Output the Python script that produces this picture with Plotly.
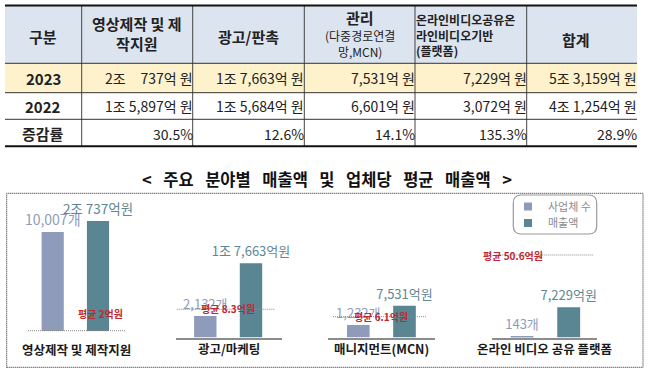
import plotly.graph_objects as go

# ---------------- data ----------------
table_header = ["구분", "영상제작 및 제<br>작지원", "광고/판촉", "관리",
                "온라인비디오공유온<br>라인비디오기반<br>(플랫폼)", "합계"]
table_header_sub = ["", "", "", "(다중경로연결<br>망,MCN)", "", ""]
row_labels = ["2023", "2022", "증감률"]
sales_2023 = [20737, 17663, 7531, 7229, 53159]      # 억 원
sales_2022 = [15897, 15684, 6601, 3072, 41254]      # 억 원
growth_rate = [30.5, 12.6, 14.1, 135.3, 28.9]       # %

chart_title = "< 주요 분야별 매출액 및 업체당 평균 매출액 >"
categories = ["영상제작 및 제작지원", "광고/마케팅", "매니지먼트(MCN)", "온라인 비디오 공유 플랫폼"]
series_names = ["사업체 수", "매출액"]
companies = [10007, 2132, 1232, 143]                # 개
revenue = [20737, 17663, 7531, 7229]                # 억원
avg_revenue = [2, 8.3, 6.1, 50.6]                   # 억원

# ---------------- helpers ----------------
W, H = 648, 379
FONT = "Noto Sans CJK KR"


def fx(px):
    return px / W


def fy(py):
    return 1 - py / H


def won_table(v):
    jo, rest = divmod(v, 10000)
    if jo:
        r = f"{rest:,}"
        nd = sum(c.isdigit() for c in r)
        pad = "\u2007" * max(0, 4 - nd) + ("\u2008" if "," not in r else "")
        return f"{jo}조 {pad}{r}억 원"
    return f"{rest:,}억 원"


def won_label(v):
    jo, rest = divmod(v, 10000)
    if jo:
        return f"{jo}조 {rest:,}억원"
    return f"{rest:,}억원"


shapes, annotations = [], []

# ---------------- table (cells drawn from the arrays) ----------------
col_w = [76.7, 111, 111.6, 110.7, 111.7, 110.3]
row_h = [58.3, 29.4, 26.6, 27.4]
x_edges = [5.0]
for w in col_w:
    x_edges.append(x_edges[-1] + w)
y_edges = [5.0]
for h in row_h:
    y_edges.append(y_edges[-1] + h)
TL, TR = x_edges[0], x_edges[-1]
blue, yellow = "#dce4f0", "#fdf2cc"


def rect(x0, x1, y0, y1, fill):
    return dict(type="rect", xref="paper", yref="paper", x0=fx(x0), x1=fx(x1),
                y0=fy(y1), y1=fy(y0), fillcolor=fill, line=dict(width=0), layer="below")


def hline(y, x0, x1, color="#333", width=1, dash="solid"):
    return dict(type="line", xref="paper", yref="paper", x0=fx(x0), x1=fx(x1),
                y0=fy(y), y1=fy(y), line=dict(color=color, width=width, dash=dash))


shapes.append(rect(TL, TR, y_edges[0], y_edges[1], blue))
shapes.append(rect(TL, TR, y_edges[1], y_edges[2], yellow))
for xe in x_edges[1:-1]:
    shapes.append(dict(type="line", xref="paper", yref="paper", x0=fx(xe), x1=fx(xe),
                       y0=fy(y_edges[-1]), y1=fy(y_edges[0]), line=dict(color="#444", width=1)))
for ye in y_edges[1:-1]:
    shapes.append(hline(ye, TL, TR, "#333", 1))
shapes.append(hline(y_edges[0] + 0.5, TL, TR, "#111", 2))
shapes.append(hline(y_edges[-1] - 0.5, TL, TR, "#111", 2))


def ann(x, y, text, size, color="#222", xanchor="center", bold=False, align="center"):
    t = f"<b>{text}</b>" if bold else text
    annotations.append(dict(xref="paper", yref="paper", x=fx(x), y=fy(y), text=t,
                            showarrow=False, xanchor=xanchor, yanchor="middle", align=align,
                            font=dict(family=FONT, size=size, color=color)))


# header
hdr_cy = (y_edges[0] + y_edges[1]) / 2
for j, txt in enumerate(table_header):
    cx = (x_edges[j] + x_edges[j + 1]) / 2
    if table_header_sub[j]:
        ann(cx, 17.5, txt, 15, bold=True)
        ann(cx, 44, table_header_sub[j], 12)
    elif txt.count("<br>") == 2:
        ann(x_edges[j] - 1, hdr_cy + 0.5, txt, 12, xanchor="left", bold=True, align="left")
    elif j == len(table_header) - 1:
        ann(cx - 6, hdr_cy + 5, txt, 15, bold=True)
    else:
        ann(cx, hdr_cy + (-0.5 if "<br>" in txt else 2.5), txt, 15, bold=True)

# body
body = [[won_table(a) for a in sales_2023],
        [won_table(b) for b in sales_2022],
        [f"{g:.1f}%" for g in growth_rate]]
for i, lab in enumerate(row_labels):
    cy = (y_edges[i + 1] + y_edges[i + 2]) / 2 + 0.5
    ann((x_edges[0] + x_edges[1]) / 2, cy, lab, 15, bold=True)
    for j, val in enumerate(body[i]):
        ann(x_edges[j + 2] + 2, cy, val, 14, xanchor="right")

# ---------------- chart panels ----------------
panels = [
    dict(l=28, r=125, c=52.7, v=98.0, base=331, line=False, cpx=0.0099, rpx=0.0053, lab_y=349),
    dict(l=175.7, r=281.7, c=205.3, v=251.0, base=337.5, line=True, cpx=0.0101, rpx=0.0042, lab_y=348),
    dict(l=328, r=435, c=358.3, v=404.5, base=337.5, line=True, cpx=0.0101, rpx=0.0042, lab_y=348),
    dict(l=492, r=597, c=522, v=568.7, base=337.5, line=True, cpx=0.0101, rpx=0.0042, lab_y=348),
]
avg_lines = [
    dict(y=330.7, l=28, r=125, tx=75.5, ty=322.7),
    dict(y=309.3, l=176.7, r=275, tx=227.5, ty=318),
    dict(y=316.7, l=333, r=427, tx=380.5, ty=326),
    dict(y=255, l=495.7, r=593.3, tx=544.7, ty=265),
]
top_px = 195
c_bar, r_bar = "#8e9bba", "#5a8592"
c_txt, r_txt = "#8f9cb8", "#5e8794"

fig = go.Figure()
layout_axes = {}
for i, p in enumerate(panels):
    n = i + 1
    xa = "x" if n == 1 else f"x{n}"
    ya_c = "y" if n == 1 else f"y{n}"
    ya_r = f"y{n + 4}"
    s = p["v"] - p["c"]
    a = -(p["c"] - p["l"]) / s
    b = a + (p["r"] - p["l"]) / s
    hpx = p["base"] - top_px
    layout_axes["xaxis" if n == 1 else f"xaxis{n}"] = dict(
        domain=[fx(p["l"]), fx(p["r"])], anchor=ya_c, type="category",
        categoryorder="array", categoryarray=series_names, range=[a, b],
        showticklabels=False, ticks="", showgrid=False, zeroline=False,
        showline=p["line"], linecolor="#8c8c8c", linewidth=2, fixedrange=True)
    layout_axes["yaxis" if n == 1 else f"yaxis{n}"] = dict(
        domain=[fy(p["base"]), fy(top_px)], anchor=xa,
        range=[0, hpx / p["cpx"]], visible=False, fixedrange=True)
    layout_axes[f"yaxis{n + 4}"] = dict(
        domain=[fy(p["base"]), fy(top_px)], anchor=xa, overlaying=ya_c,
        range=[0, hpx / p["rpx"]], visible=False, fixedrange=True)

    fig.add_trace(go.Bar(
        x=[series_names[0]], y=[companies[i]], xaxis=xa, yaxis=ya_c,
        width=0.49, marker=dict(color=c_bar, line=dict(width=0)),
        text=[f"{companies[i]:,}개"], textposition="outside", constraintext="none",
        cliponaxis=False, textfont=dict(family=FONT, size=14 if i == 0 else 13, color=c_txt),
        showlegend=False, hoverinfo="skip"))
    fig.add_trace(go.Bar(
        x=[series_names[1]], y=[revenue[i]], xaxis=xa, yaxis=ya_r,
        width=0.49, marker=dict(color=r_bar, line=dict(width=0)),
        text=[won_label(revenue[i])], textposition="outside", constraintext="none",
        cliponaxis=False, textfont=dict(family=FONT, size=13.5 if i == 0 else 13, color=r_txt),
        showlegend=False, hoverinfo="skip"))

    annotations.append(dict(xref=f"{xa} domain", yref="paper", x=0.5, y=fy(p["lab_y"]),
                            text=f"<b>{categories[i]}</b>", showarrow=False,
                            xanchor="center", yanchor="middle",
                            font=dict(family=FONT, size=12.5, color="#1a1a1a")))

# legend entries (one legend per entry to get the original's tight spacing)
legend_names = ["legend", "legend2"]
for nm, col, lg in zip(series_names, [c_bar, r_bar], legend_names):
    fig.add_trace(go.Scatter(x=[None], y=[None], mode="markers", name=nm, legend=lg,
                             marker=dict(symbol="square", size=8, color=col),
                             xaxis="x", yaxis="y", hoverinfo="skip"))

# dotted frame
shapes.append(dict(type="rect", xref="paper", yref="paper", x0=fx(6.7), x1=fx(643),
                   y0=fy(367.3), y1=fy(193.3), line=dict(color="#222", width=1, dash="1px,1px")))
# avg lines + labels
for i, al in enumerate(avg_lines):
    shapes.append(hline(al["y"], al["l"], al["r"], "#8a8a8a", 1, "1px,1px"))
    annotations.append(dict(xref="paper", yref="paper", x=fx(al["tx"]), y=fy(al["ty"]),
                            text=f"<b>평균 {avg_revenue[i]:g}억원</b>", showarrow=False,
                            font=dict(family=FONT, size=10, color="#c0282e")))

# legend box (rounded)
x0p, x1p, y0p, y1p, rr = 513.3, 596.7, 195, 234, 8
pts = [("M", x0p + rr, y0p), ("L", x1p - rr, y0p), ("Q", x1p, y0p), ("", x1p, y0p + rr),
       ("L", x1p, y1p - rr), ("Q", x1p, y1p), ("", x1p - rr, y1p), ("L", x0p + rr, y1p),
       ("Q", x0p, y1p), ("", x0p, y1p - rr), ("L", x0p, y0p + rr), ("Q", x0p, y0p), ("", x0p + rr, y0p)]
path = " ".join(f"{c} {fx(px):.5f},{fy(py):.5f}".strip() for c, px, py in pts) + " Z"
shapes.append(dict(type="path", xref="paper", yref="paper", path=path,
                   line=dict(color="#9a9a9a", width=1.2)))

# chart title (wide word spacing as in the original)
annotations.append(dict(xref="paper", yref="paper", x=fx(326.5), y=fy(179.3),
                        text="<b>" + chart_title.replace(" ", "\u2002\u2009") + "</b>", showarrow=False,
                        font=dict(family=FONT, size=16.5, color="#111")))

legend_style = dict(xanchor="left", yanchor="top", bgcolor="rgba(0,0,0,0)", borderwidth=0,
                    font=dict(family=FONT, size=11, color="#8a8a8a"))
fig.update_layout(
    width=W, height=H, margin=dict(l=0, r=0, t=0, b=0),
    paper_bgcolor="white", plot_bgcolor="rgba(0,0,0,0)",
    barmode="overlay", showlegend=True,
    legend=dict(x=fx(508), y=fy(192), **legend_style),
    legend2=dict(x=fx(508), y=fy(208.5), **legend_style),
    shapes=shapes, annotations=annotations,
    font=dict(family=FONT),
    **layout_axes,
)

fig.write_html("out.html", config={"displayModeBar": False},
               post_script="document.body.style.margin='0';")
